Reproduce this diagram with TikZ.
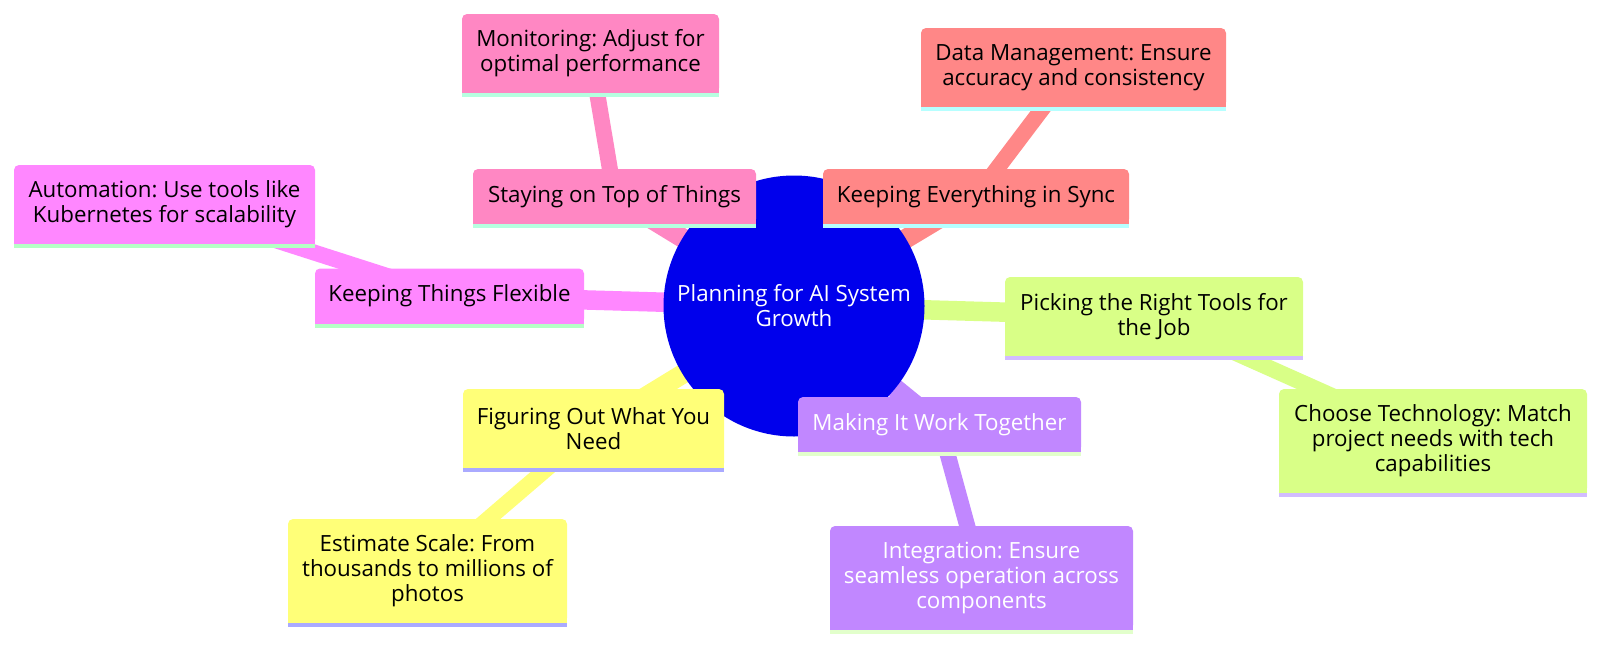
\documentclass[tikz,border=0pt]{standalone}
\usepackage{fontspec}
\setmainfont{Open Sans}
\usepackage{xcolor}
\definecolor{rootblue}{HTML}{0000EC}
\definecolor{boxyellow}{HTML}{FFFF78}
\definecolor{boxgreen}{HTML}{D9FF87}
\definecolor{boxpurple}{HTML}{C187FF}
\definecolor{boxmagenta}{HTML}{FF87FF}
\definecolor{boxpink}{HTML}{FF87C3}
\definecolor{boxred}{HTML}{FF8787}
\definecolor{lineyellow}{HTML}{AAAAFF}
\definecolor{linegreen}{HTML}{D2BCFF}
\definecolor{linepurple}{HTML}{E2FFCB}
\definecolor{linemagenta}{HTML}{B6FFC6}
\definecolor{linepink}{HTML}{B6FFE0}
\definecolor{linered}{HTML}{B6FFFF}
\newdimen\pxu \pxu=0.02cm
\newcommand\mmfont{\frenchspacing\fontsize{12.7}{14.3}\selectfont}
\pgfdeclarelayer{background}
\pgfsetlayers{background,main}

\begin{document}
\begin{tikzpicture}[
  x=0.02cm, y=-0.02cm,
  box/.style={rectangle, rounded corners=5\pxu, inner sep=0pt, align=center, font=\mmfont},
  trunk/.style={line width=19.5\pxu},
  twig/.style={line width=16\pxu}
]
\useasboundingbox (0,0) rectangle (1600,646);

\node[circle, fill=rootblue, text=white, minimum size=261\pxu, inner sep=0pt, align=center, font=\mmfont] (root) at (794,306) {Planning for AI System\\Growth};

\node[box, fill=boxpink, minimum width=283\pxu, minimum height=55\pxu] (staying) at (614.5,196.5) {Staying on Top of Things};
\node[box, fill=boxpink, minimum width=257\pxu, minimum height=79\pxu] (monitor) at (590.5,53.5) {Monitoring: Adjust for\\optimal performance};
\node[box, fill=boxred, minimum width=306\pxu, minimum height=55\pxu] (sync) at (976,196.5) {Keeping Everything in Sync};
\node[box, fill=boxred, minimum width=305\pxu, minimum height=79\pxu] (datamgmt) at (1073.5,67.5) {Data Management: Ensure\\accuracy and consistency};
\node[box, fill=boxmagenta, minimum width=269\pxu, minimum height=55\pxu] (flexible) at (449.5,296) {Keeping Things Flexible};
\node[box, fill=boxmagenta, minimum width=301\pxu, minimum height=79\pxu] (automation) at (164.5,204.5) {Automation: Use tools like\\Kubernetes for scalability};
\node[box, fill=boxgreen, minimum width=298\pxu, minimum height=79\pxu] (tools) at (1154,316.5) {Picking the Right Tools for\\the Job};
\node[box, fill=boxgreen, minimum width=308\pxu, minimum height=104\pxu] (choose) at (1433,441) {Choose Technology: Match\\project needs with tech\\capabilities};
\node[box, fill=boxyellow, minimum width=261\pxu, minimum height=79\pxu] (needs) at (593.5,428.5) {Figuring Out What You\\Need};
\node[box, fill=boxyellow, minimum width=279\pxu, minimum height=104\pxu] (estimate) at (427.5,571) {Estimate Scale: From\\thousands to millions of\\photos};
\node[box, fill=boxpurple, text=white, minimum width=283\pxu, minimum height=55\pxu] (together) at (939.5,424.5) {Making It Work Together};
\node[box, fill=boxpurple, text=white, minimum width=303\pxu, minimum height=104\pxu] (integration) at (981.5,578) {Integration: Ensure\\seamless operation across\\components};

% bottom strips
\foreach \n/\f/\b in {staying/boxpink/linepink, monitor/boxpink/linepink,
  sync/boxred/linered, datamgmt/boxred/linered,
  flexible/boxmagenta/linemagenta, automation/boxmagenta/linemagenta,
  tools/boxgreen/linegreen, choose/boxgreen/linegreen,
  needs/boxyellow/lineyellow, estimate/boxyellow/lineyellow,
  together/boxpurple/linepurple, integration/boxpurple/linepurple}{
  \fill[\f] ([yshift=6\pxu]\n.south west) rectangle (\n.south east);
  \fill[\b] (\n.south west) rectangle ([yshift=-4\pxu]\n.south east);
}

\begin{pgfonlayer}{background}
\draw[trunk, boxpink] (root.center) -- (staying.center);
\draw[trunk, boxred] (root.center) -- (sync.center);
\draw[trunk, boxmagenta] (root.center) -- (flexible.center);
\draw[trunk, boxgreen] (root.center) -- (tools.center);
\draw[trunk, boxyellow] (root.center) -- (needs.center);
\draw[trunk, boxpurple] (root.center) -- (together.center);
\draw[twig, boxpink] (staying.center) -- (monitor.center);
\draw[twig, boxred] (sync.center) -- (datamgmt.center);
\draw[twig, boxmagenta] (flexible.center) -- (automation.center);
\draw[twig, boxgreen] (tools.center) -- (choose.center);
\draw[twig, boxyellow] (needs.center) -- (estimate.center);
\draw[twig, boxpurple] (together.center) -- (integration.center);
\end{pgfonlayer}
\end{tikzpicture}
\end{document}
